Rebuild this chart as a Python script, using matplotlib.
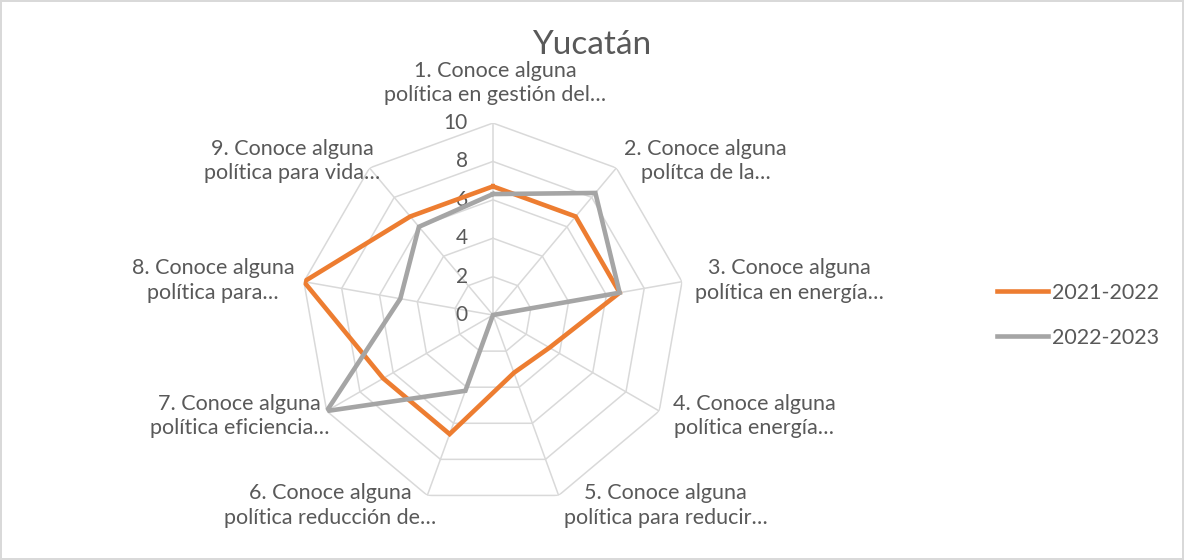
import matplotlib.pyplot as plt
import numpy as np

# categorias y valores
categorias = ['1. Conoce alguna\npolítica en gestión del…',
              '2. Conoce alguna\npolítca de la…',
              '3. Conoce alguna\npolítica en energía…',
              '4. Conoce alguna\npolítica energía…',
              '5. Conoce alguna\npolítica para reducir…',
              '6. Conoce alguna\npolítica reducción de…',
              '7. Conoce alguna\npolítica eficiencia…',
              '8. Conoce alguna\npolítica para…',
              '9. Conoce alguna\npolítica para vida…']
serie_2021 = [6.7, 6.7, 6.7, 3.4, 3.2, 6.6, 6.6, 10.0, 6.7]
serie_2022 = [6.3, 8.3, 6.7, 0.0, 0.0, 4.2, 10.0, 4.9, 6.0]
nombres = ['2021-2022', '2022-2023']
niveles = [0, 2, 4, 6, 8, 10]

texto = '#595959'
rejilla = '#d9d9d9'
colores = ['#ED7D31', '#A5A5A5']

plt.rcParams['font.family'] = ['Lato', 'DejaVu Sans']

n = len(categorias)
ang = np.linspace(0, 2 * np.pi, n, endpoint=False)
ang_c = np.append(ang, ang[0])

fig = plt.figure(figsize=(11.84, 5.6), dpi=100, edgecolor=rejilla, linewidth=1.5)
ax = fig.add_axes([0.2542, 0.0946, 0.3243, 0.6857], projection='polar')
ax.set_theta_zero_location('N')
ax.set_theta_direction(-1)
ax.set_ylim(0, 10)
ax.grid(False)
ax.spines['polar'].set_visible(False)
ax.set_xticks([])
ax.set_yticks([])

# rejilla en forma de poligono
for v in niveles[1:]:
    ax.plot(ang_c, [v] * (n + 1), color=rejilla, lw=1.1, zorder=1)
for a in ang:
    ax.plot([a, a], [0, 10], color=rejilla, lw=1.1, zorder=1)

for v in niveles:
    ax.annotate(str(v), xy=(0, v), xytext=(-25, 0), textcoords='offset pixels',
                ha='right', va='center', fontsize=15, color=texto)

# series
for datos, nom, col in zip([serie_2021, serie_2022], nombres, colores):
    ax.plot(ang_c, datos + datos[:1], color=col, lw=3.3, label=nom, zorder=3,
            solid_joinstyle='miter')

# etiquetas de categorias
desp = [(2, 40), (89, 7), (107, 1), (95, -5), (107, -10),
        (-97, -10), (-87, -5), (-91, 1), (-77, 7)]
for a, cat, d in zip(ang, categorias, desp):
    ax.annotate(cat, xy=(a, 10), xytext=d, textcoords='offset pixels',
                ha='center', va='center', multialignment='center',
                fontsize=15.5, color=texto, linespacing=1.3,
                annotation_clip=False)

fig.text(0.5, 0.92, 'Yucatán', ha='center', va='center', fontsize=24, color=texto)

fig.legend(loc='center left', bbox_to_anchor=(0.842, 0.437), frameon=False,
           fontsize=15.5, handlelength=2.37, handletextpad=0.2, labelspacing=1.16,
           labelcolor=texto, borderpad=0, borderaxespad=0)

fig.savefig('out.png', dpi=100)
